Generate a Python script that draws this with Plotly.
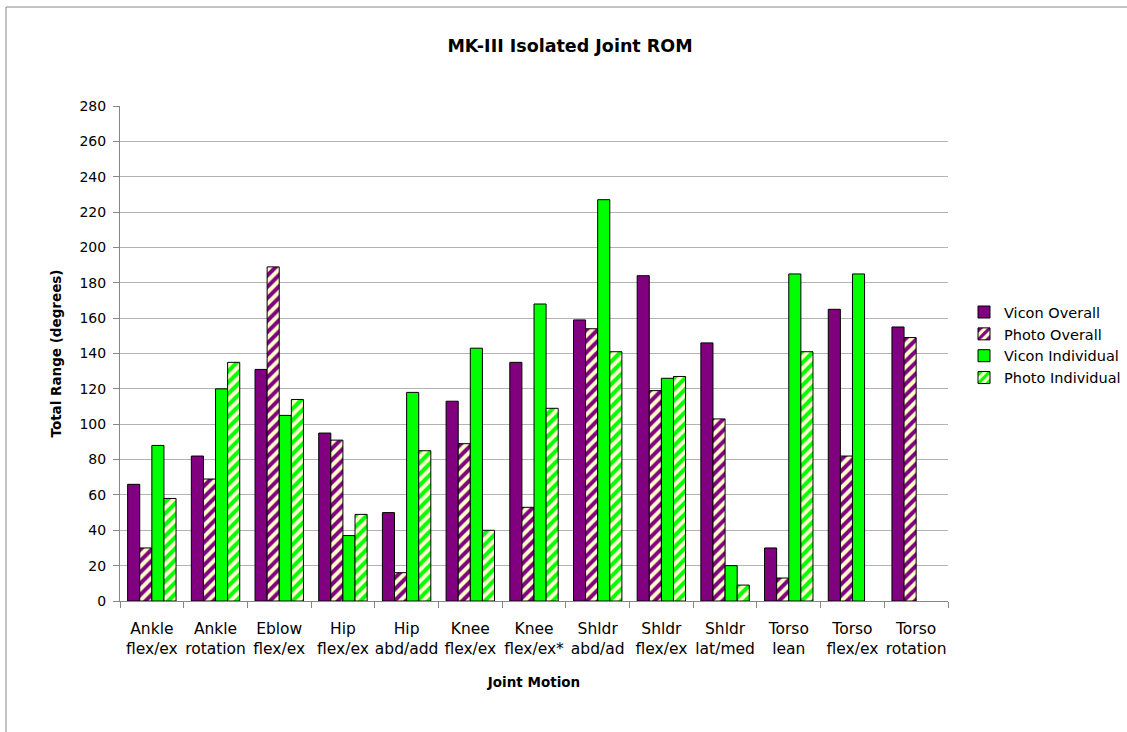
import plotly.graph_objects as go

categories = ["Ankle<br>flex/ex", "Ankle<br>rotation", "Eblow<br>flex/ex", "Hip<br>flex/ex",
              "Hip<br>abd/add", "Knee<br>flex/ex", "Knee<br>flex/ex*", "Shldr<br>abd/ad",
              "Shldr<br>flex/ex", "Shldr<br>lat/med", "Torso<br>lean", "Torso<br>flex/ex",
              "Torso<br>rotation"]
vicon_overall = [66, 82, 131, 95, 50, 113, 135, 159, 184, 146, 30, 165, 155]
photo_overall = [30, 69, 189, 91, 16, 89, 53, 154, 119, 103, 13, 82, 149]
vicon_individual = [88, 120, 105, 37, 118, 143, 168, 227, 126, 20, 185, 185, None]
photo_individual = [58, 135, 114, 49, 85, 40, 109, 141, 127, 9, 141, None, None]
y_ticks = list(range(0, 281, 20))

PURPLE = "#800080"
GREEN = "#00FF00"
CREAM = "#FFFFCC"
FONT = "DejaVu Sans"

fig = go.Figure()
fig.add_bar(x=categories, y=vicon_overall, name="Vicon Overall", legendgroup="a",
            marker=dict(color=PURPLE, line=dict(color="black", width=1)))
fig.add_bar(x=categories, y=photo_overall, name="Photo Overall", legendgroup="b",
            marker=dict(color=CREAM, line=dict(color="black", width=1),
                        pattern=dict(shape="/", fgcolor=PURPLE, bgcolor=CREAM, fgopacity=1,
                                     size=8, solidity=0.5)))
fig.add_bar(x=categories, y=vicon_individual, name="Vicon Individual", legendgroup="c",
            marker=dict(color=GREEN, line=dict(color="black", width=1)))
fig.add_bar(x=categories, y=photo_individual, name="Photo Individual", legendgroup="d",
            marker=dict(color=CREAM, line=dict(color="black", width=1),
                        pattern=dict(shape="/", fgcolor=GREEN, bgcolor=CREAM, fgopacity=1,
                                     size=8, solidity=0.5)))

fig.update_layout(
    width=1127, height=732,
    margin=dict(l=120, r=179, t=106, b=131, autoexpand=False),
    paper_bgcolor="white", plot_bgcolor="white",
    font=dict(family=FONT, size=14, color="black"),
    title=dict(text="<b>MK-III Isolated Joint ROM</b>", x=(570 - 120) / 828, xanchor="center",
               xref="paper", y=0.937, yanchor="middle",
               font=dict(family=FONT, size=17.5, color="black")),
    barmode="group", bargap=0.24, bargroupgap=0.0,
    legend=dict(x=(964 - 120) / 828, y=0.517, xanchor="left", yanchor="middle",
                font=dict(family=FONT, size=14.5), tracegroupgap=0, itemwidth=30,
                bgcolor="rgba(0,0,0,0)"),
    xaxis=dict(title=dict(text="<b>Joint Motion</b>", font=dict(family=FONT, size=13.5), standoff=20),
               showline=True, linecolor="#868686", linewidth=1, automargin=False,
               ticks="outside", tickson="boundaries", ticklen=6, tickcolor="#868686",
               ticklabelstandoff=13,
               showgrid=False, tickangle=0, tickfont=dict(family=FONT, size=15.5)),
    yaxis=dict(title=dict(text="<b>Total Range (degrees)</b>", font=dict(family=FONT, size=13.5), standoff=14),
               range=[0, 280], tickvals=y_ticks, showline=True, linecolor="#868686",
               linewidth=1, ticks="outside", ticklen=6, tickcolor="#868686", automargin=False,
               ticklabelstandoff=4,
               showgrid=True, gridcolor="#B3B3B3", gridwidth=1,
               tickfont=dict(family=FONT, size=14), zeroline=False),
)

fig.add_shape(type="rect", xref="paper", yref="paper",
              x0=(6 - 120) / 828, x1=(1140 - 120) / 828,
              y0=(601 - 745) / 495, y1=(601 - 7) / 495,
              line=dict(color="#888888", width=1), fillcolor="rgba(0,0,0,0)", layer="below")

fig.write_html("out.html", config={"displayModeBar": False},
               post_script="document.body.style.margin='0px';document.body.style.overflow='hidden';")
